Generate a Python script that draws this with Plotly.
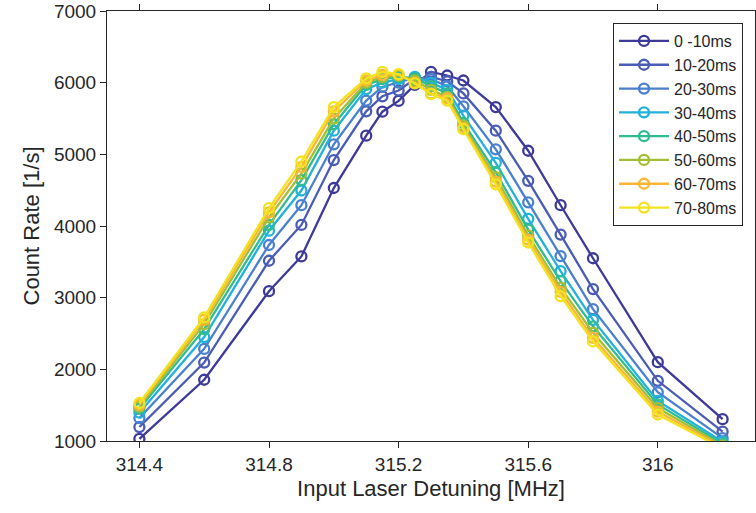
import plotly.graph_objects as go

# detuning points (MHz)
detuning = [314.4, 314.6, 314.8, 314.9, 315.0, 315.1, 315.15, 315.2, 315.25,
            315.3, 315.35, 315.4, 315.5, 315.6, 315.7, 315.8, 316.0, 316.2]

labels = ['0 -10ms', '10-20ms', '20-30ms', '30-40ms',
          '40-50ms', '50-60ms', '60-70ms', '70-80ms']

rate_0_10 = [1030, 1855, 3090, 3575, 4530, 5260, 5595, 5745, 5970, 6150, 6100, 6030, 5660, 5050, 4290, 3550, 2100, 1305]
rate_10_20 = [1195, 2095, 3515, 4015, 4920, 5600, 5810, 5890, 6050, 6080, 6020, 5850, 5330, 4630, 3880, 3120, 1840, 1130]
rate_20_30 = [1320, 2285, 3735, 4290, 5140, 5750, 5940, 6000, 6070, 6050, 5950, 5670, 5070, 4330, 3580, 2840, 1680, 1040]
rate_30_40 = [1395, 2450, 3935, 4495, 5330, 5910, 6000, 6050, 6080, 6000, 5900, 5540, 4880, 4100, 3370, 2690, 1560, 990]
rate_40_50 = [1450, 2560, 4015, 4640, 5420, 5970, 6050, 6080, 6060, 5950, 5850, 5440, 4750, 3950, 3230, 2600, 1510, 960]
rate_50_60 = [1480, 2630, 4120, 4730, 5500, 6000, 6080, 6100, 6030, 5900, 5800, 5400, 4680, 3870, 3140, 2510, 1460, 935]
rate_60_70 = [1505, 2690, 4190, 4825, 5600, 6030, 6110, 6110, 6000, 5850, 5780, 5370, 4620, 3810, 3080, 2440, 1410, 915]
rate_70_80 = [1530, 2725, 4250, 4900, 5660, 6060, 6150, 6120, 5990, 5840, 5750, 5350, 4580, 3770, 3020, 2390, 1370, 895]

series = [rate_0_10, rate_10_20, rate_20_30, rate_30_40,
          rate_40_50, rate_50_60, rate_60_70, rate_70_80]

# parula-like colours
colors = ['#3d3a98', '#4a5cb3', '#4a80cd', '#22b1d9',
          '#30bc93', '#a2bf35', '#fbb634', '#f3e31f']

fig = go.Figure()
for lab, ys, c in zip(labels, series, colors):
    fig.add_trace(go.Scatter(
        x=detuning, y=ys, name=lab, mode='lines+markers',
        line=dict(color=c, width=2.3),
        marker=dict(symbol='circle-open', size=10, color=c, line=dict(width=2.3, color=c)),
    ))

axis_style = dict(
    showgrid=False, zeroline=False, showline=True, linecolor='#262626', linewidth=1,
    mirror='ticks', ticks='outside', ticklen=6, tickcolor='#262626',
    tickfont=dict(size=19, color='#262626'), automargin=False,
)

fig.update_layout(
    width=756, height=513,
    margin=dict(l=107, r=1, t=11, b=72),
    paper_bgcolor='white', plot_bgcolor='white',
    font=dict(family='Liberation Sans, Arial, sans-serif', color='#262626'),
    showlegend=True,
    legend=dict(
        x=0.9815, y=0.972, xanchor='right', yanchor='top',
        bgcolor='white', bordercolor='#262626', borderwidth=1,
        font=dict(size=16, color='#262626'), itemwidth=50,
    ),
)

fig.update_xaxes(
    range=[314.3, 316.3], tickvals=[314.4, 314.8, 315.2, 315.6, 316.0],
    ticktext=['314.4', '314.8', '315.2', '315.6', '316'],
    title=dict(text='Input Laser Detuning [MHz]', font=dict(size=22), standoff=6),
    **axis_style,
)
fig.update_yaxes(
    range=[1000, 7000], tickvals=[1000, 2000, 3000, 4000, 5000, 6000, 7000],
    title=dict(text='Count Rate [1/s]', font=dict(size=22), standoff=8),
    **axis_style,
)

# the page body adds an 8px margin; remove it so the figure sits at the corner
fig.write_html('out.html', config={'displayModeBar': False},
               post_script="document.body.style.margin='0';")
